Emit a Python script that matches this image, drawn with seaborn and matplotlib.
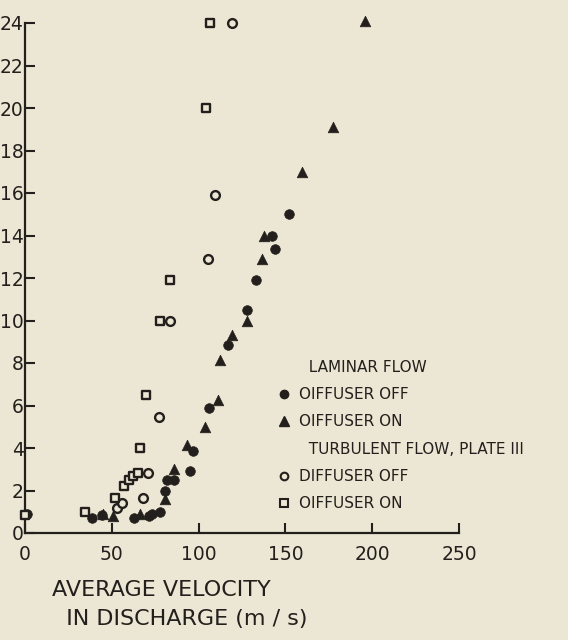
import numpy as np
import pandas as pd
import matplotlib
matplotlib.use("Agg")
import matplotlib.pyplot as plt
import seaborn as sns
from matplotlib.lines import Line2D

# ---- data ----
lam_off_x = [1, 38.5, 44.3, 62.6, 71.3, 73.2, 77.6, 80.9, 81.9, 86.1, 95.0, 96.9, 106.0, 117.2, 128.1, 133.3, 142.0, 144.1, 152.2]
lam_off_y = [0.9, 0.72, 0.85, 0.72, 0.8, 0.88, 1.0, 2.0, 2.5, 2.5, 2.9, 3.84, 5.9, 8.85, 10.5, 11.9, 14.0, 13.35, 15.0]

lam_on_x = [45.0, 50.5, 66.5, 80.9, 85.7, 93.1, 103.6, 111.4, 112.1, 119.5, 127.7, 136.4, 137.8, 159.5, 177.3, 196.1]
lam_on_y = [0.9, 0.8, 0.9, 1.6, 3.0, 4.15, 5.0, 6.26, 8.14, 9.3, 10.0, 12.9, 14.0, 17.0, 19.1, 24.1]

tur_off_x = [53.0, 55.9, 68.0, 70.7, 77.1, 83.4, 105.4, 109.4, 119.5]
tur_off_y = [1.2, 1.4, 1.67, 2.82, 5.45, 10.0, 12.9, 15.9, 24.0]

tur_on_x = [0, 34.5, 52.0, 56.8, 59.7, 62.2, 64.9, 66.0, 69.8, 77.7, 83.8, 104.0, 106.4]
tur_on_y = [0.85, 1.0, 1.65, 2.2, 2.5, 2.7, 2.83, 4.0, 6.5, 10.0, 11.9, 20.0, 24.0]

x_ticks = [0, 50, 100, 150, 200, 250]
y_ticks = [0, 2, 4, 6, 8, 10, 12, 14, 16, 18, 20, 22, 24]

legend_labels = ["  LAMINAR FLOW", "OIFFUSER OFF", "OIFFUSER ON",
                 "  TURBULENT FLOW, PLATE III", "DIFFUSER OFF", "OIFFUSER ON"]
x_label = "AVERAGE VELOCITY\n  IN DISCHARGE (m / s)"

# ---- style ----
BG = "#ece7d4"
INK = "#231f1c"
sns.set_theme(style="ticks")
plt.rcParams["font.family"] = ["DejaVu Sans"]

fig = plt.figure(figsize=(5.68, 6.40), dpi=100, facecolor=BG)
ax = fig.add_axes([25 / 568, 107 / 640, 434 / 568, 510 / 640])
ax.set_facecolor(BG)

common = dict(ax=ax, legend=False, clip_on=False, zorder=3)
sns.scatterplot(x=lam_off_x, y=lam_off_y, marker="o", s=48, color=INK,
                edgecolor=INK, linewidth=0.5, **common)
sns.scatterplot(x=lam_on_x, y=lam_on_y, marker="^", s=58, color=INK,
                edgecolor=INK, linewidth=0.5, **common)
sns.scatterplot(x=tur_off_x, y=tur_off_y, marker="o", s=40, facecolor=BG,
                edgecolor=INK, linewidth=1.7, **common)
sns.scatterplot(x=tur_on_x, y=tur_on_y, marker="s", s=40, facecolor=BG,
                edgecolor=INK, linewidth=1.7, **common)

ax.set_xlim(0, 250)
ax.set_ylim(0, 24)
ax.set_xticks(x_ticks)
ax.set_yticks(y_ticks)
ax.set_xticklabels([str(v) for v in x_ticks], fontsize=13.5, color=INK)
ax.set_yticklabels([str(v) for v in y_ticks], fontsize=13.5, color=INK)
ax.tick_params(axis="both", direction="in", length=7, width=1.5, colors=INK)
ax.tick_params(axis="x", pad=9)
ax.tick_params(axis="y", pad=1)
for side in ["top", "right"]:
    ax.spines[side].set_visible(False)
for side in ["left", "bottom"]:
    ax.spines[side].set_linewidth(1.6)
    ax.spines[side].set_color(INK)

ax.set_xlabel("")
ax.set_ylabel("")
fig.text(52 / 568, 1 - 580 / 640, x_label, fontsize=16, color=INK,
         ha="left", va="top", linespacing=1.55)

blank = Line2D([], [], linestyle="none", marker=None)
handles = [
    blank,
    Line2D([], [], linestyle="none", marker="o", markersize=6, color=INK),
    Line2D([], [], linestyle="none", marker="^", markersize=6.5, color=INK),
    blank,
    Line2D([], [], linestyle="none", marker="o", markersize=5.5, markerfacecolor=BG,
           markeredgecolor=INK, markeredgewidth=1.5),
    Line2D([], [], linestyle="none", marker="s", markersize=5.5, markerfacecolor=BG,
           markeredgecolor=INK, markeredgewidth=1.5),
]
leg = ax.legend(handles, legend_labels, loc="upper left",
                bbox_to_anchor=((278 - 25) / 434, (533 - 360) / 510),
                frameon=False, fontsize=11, labelspacing=0.8,
                handlelength=0.8, handletextpad=0.6, borderpad=0,
                borderaxespad=0)
for t in leg.get_texts():
    t.set_color(INK)

fig.savefig("out.png", dpi=100, facecolor=BG)
